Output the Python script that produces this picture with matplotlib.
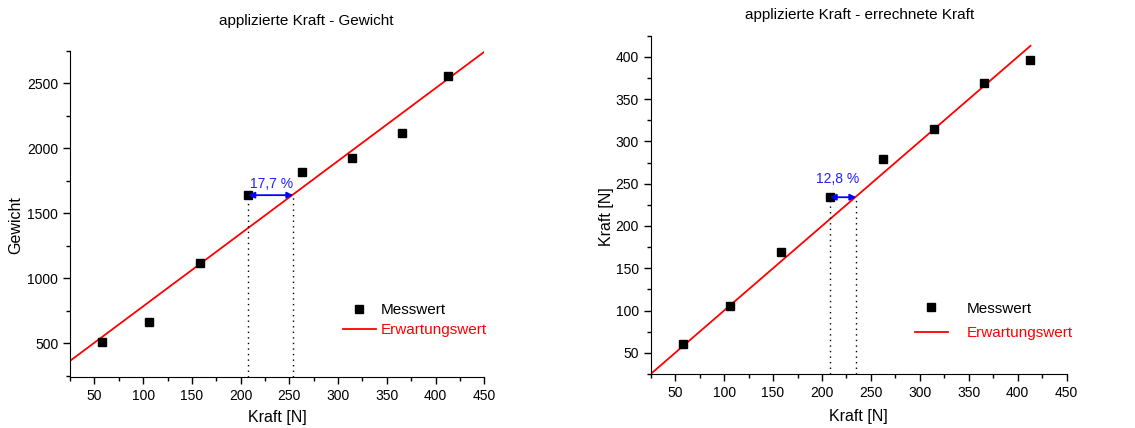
import matplotlib.pyplot as plt
from matplotlib.ticker import MultipleLocator

plt.rcParams['font.family'] = ['Liberation Sans', 'DejaVu Sans']

# applied force [N]
kraft = [57.5, 106.5, 158, 208, 262.5, 314, 366, 413]
# measured weight
gewicht = [510, 665, 1118, 1640, 1815, 1930, 2120, 2555]
# calculated force [N]
kraft_err = [61, 105, 169, 234, 279, 315, 369, 396]

# expected values (straight lines)
erw_gew_x = [25, 450]
erw_gew_y = [364, 2744]
erw_kraft_x = [25, 413]
erw_kraft_y = [25, 413]

# deviation markers
abw_gew = (208, 254, 1640, '17,7 %')
abw_kraft = (208, 235, 234, '12,8 %')

blau = '#2020ff'

fig = plt.figure(figsize=(11.35, 4.28), dpi=100)
ax1 = fig.add_axes([0.0617, 0.1192, 0.3650, 0.7616])
ax2 = fig.add_axes([0.5733, 0.1262, 0.3665, 0.7904])


def style_axes(ax, xlim, ylim, ymaj, ymin):
    ax.set_xlim(*xlim)
    ax.set_ylim(*ylim)
    for s in ('top', 'right'):
        ax.spines[s].set_visible(False)
    ax.xaxis.set_major_locator(MultipleLocator(50))
    ax.xaxis.set_minor_locator(MultipleLocator(25))
    ax.yaxis.set_major_locator(MultipleLocator(ymaj))
    ax.yaxis.set_minor_locator(MultipleLocator(ymin))
    ax.tick_params(which='major', direction='out', length=5, width=1, labelsize=10)
    ax.tick_params(which='minor', direction='out', length=3, width=1)
    ax.set_xlabel('Kraft [N]', fontsize=11.5)


def deviation(ax, d, ybottom, tx, ty):
    x0, x1, y, txt = d
    ax.plot([x0, x0], [ybottom, y], color='black', ls=(0, (1, 3)), lw=1)
    ax.plot([x1, x1], [ybottom, y], color='black', ls=(0, (1, 3)), lw=1)
    ax.annotate('', xy=(x1, y), xytext=(x0, y),
                arrowprops=dict(arrowstyle='<|-|>', color='blue', lw=1.3,
                                shrinkA=0, shrinkB=0, mutation_scale=9))
    ax.text(tx, ty, txt, color=blau, fontsize=10, ha='center', va='center')


# left: applied force vs weight
style_axes(ax1, (25, 450), (240, 2750), 500, 250)
ax1.plot(erw_gew_x, erw_gew_y, color='red', lw=1.3, label='Erwartungswert')
ax1.plot(kraft, gewicht, 'ks', ms=6, ls='none', label='Messwert')
deviation(ax1, abw_gew, 240, 232, 1723)
ax1.set_ylabel('Gewicht', fontsize=11.5)
ax1.yaxis.set_label_coords(-0.112, 0.466)
ax1.xaxis.set_label_coords(0.5, -0.101)
fig.text(0.270, 0.951, 'applizierte Kraft - Gewicht', fontsize=11, ha='center', va='center')

# right: applied force vs calculated force
style_axes(ax2, (25, 450), (25, 425), 50, 25)
ax2.plot(erw_kraft_x, erw_kraft_y, color='red', lw=1.3, label='Erwartungswert')
ax2.plot(kraft, kraft_err, 'ks', ms=6, ls='none', label='Messwert')
deviation(ax2, abw_kraft, 25, 216, 256)
ax2.set_ylabel('Kraft [N]', fontsize=11.5)
ax2.yaxis.set_label_coords(-0.088, 0.464)
ax2.xaxis.set_label_coords(0.5, -0.103)
fig.text(0.757, 0.965, 'applizierte Kraft - errechnete Kraft', fontsize=11, ha='center', va='center')

# legends: (axes, upper-left anchor, text pad, row spacing)
for ax, pos, pad, sp in ((ax1, (0.659, 0.226), 0.35, 0.4),
                         (ax2, (0.635, 0.214), 1.25, 0.68)):
    h, l = ax.get_legend_handles_labels()
    leg = ax.legend(h[::-1], l[::-1], loc='upper left', bbox_to_anchor=pos,
                    frameon=False, fontsize=11, handlelength=2.15,
                    handletextpad=pad, labelspacing=sp,
                    borderpad=0, borderaxespad=0)
    leg.get_texts()[1].set_color('red')

fig.savefig('out.png', dpi=100)
